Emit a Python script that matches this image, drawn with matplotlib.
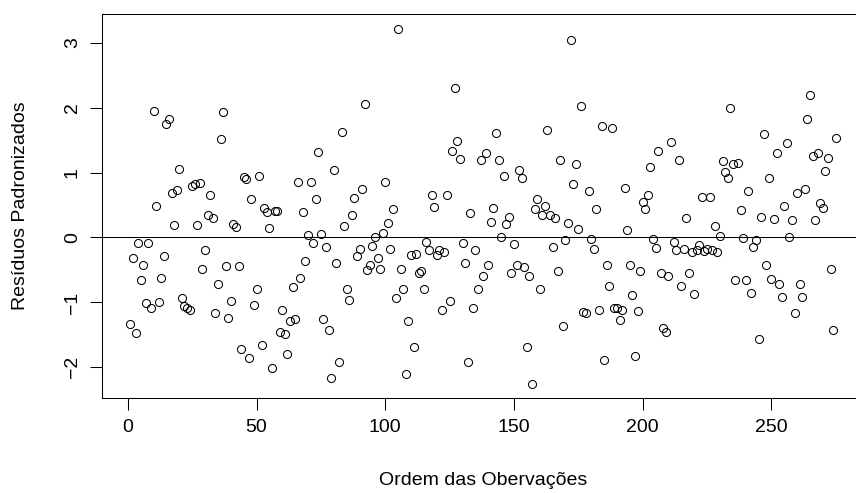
import numpy as np
import matplotlib
matplotlib.use("Agg")
import matplotlib.pyplot as plt

residuos = [
    -1.34, -0.31, -1.47, -0.09, -0.65, -0.42, -1.01, -0.08, -1.08, 1.95,
    0.49, -1.00, -0.62, -0.29, 1.75, 1.82, 0.69, 0.19, 0.73, 1.06,
    -0.93, -1.05, -1.08, -1.12, 0.79, 0.82, 0.19, 0.84, -0.49, -0.20,
    0.35, 0.65, 0.30, -1.17, -0.71, 1.51, 1.93, -0.44, -1.24, -0.98,
    0.21, 0.16, -0.44, -1.72,
    0.93, 0.90, -1.85, 0.59, -1.04, -0.79, 0.95, -1.65, 0.46, 0.40,
    0.15, -2.01, 0.41, 0.41, -1.46, -1.12, -1.48, -1.79, -1.28, -0.77,
    -1.25, 0.86, -0.63, 0.40, -0.37, 0.04, 0.86, -0.08, 0.59, 1.32,
    0.05, -1.25, -0.14, -1.43, -2.16, 1.04, -0.39, -1.92, 1.63, 0.17,
    -0.79, -0.96, 0.34, 0.61, -0.29, -0.18, 0.75,
    2.05, -0.50, -0.42, -0.13, 0.01, -0.31, -0.48, 0.07, 0.86, 0.23,
    -0.18, 0.44, -0.93, 3.22, -0.48, -0.80, -2.10, -1.28, -0.27, -1.68,
    -0.25, -0.54, -0.52, -0.79, -0.07, -0.19, 0.65, 0.47, -0.27, -0.20,
    -1.11, -0.23, 0.65, -0.98, 1.34, 2.30, 1.49, 1.21, -0.08, -0.39,
    -1.92, 0.38, -1.09, -0.20, -0.80,
    1.20, -0.60, 1.30, -0.42, 0.24, 0.46, 1.61, 1.19, 0.00, 0.95,
    0.21, 0.31, -0.54, -0.10, -0.42, 1.04, 0.92, -0.46, -1.69, -0.60,
    -2.25, 0.44, 0.60, -0.79, 0.34, 0.49, 1.66, 0.34, -0.14, 0.30,
    -0.52, 1.19, -1.37, -0.04, 0.22, 3.04, 0.82, 1.13, 0.13, 2.03,
    -1.15, -1.17, 0.71, -0.03, -0.18, 0.44, -1.12,
    1.72, -1.89, -0.42, -0.75, 1.68, -1.09, -1.09, -1.27, -1.11, 0.76,
    0.11, -0.42, -0.89, -1.82, -1.13, -0.52, 0.54, 0.44, 0.66, 1.09,
    -0.03, -0.16, 1.34, -0.54, -1.39, -1.46, -0.60, 1.47, -0.07, -0.19,
    1.19, -0.75, -0.18, 0.30, -0.54, -0.23, -0.87, -0.20, -0.11, 0.63,
    -0.21, -0.18, 0.63, -0.19, 0.17, -0.22, 0.03,
    1.18, 1.01, 0.92, 1.99, 1.13, -0.65, 1.14, 0.43, -0.01, -0.65,
    0.71, -0.85, -0.14, -0.04, -1.56, 0.32, 1.59, -0.43, 0.92, -0.64,
    0.28, 1.30, -0.72, -0.92, 0.49, 1.45, 0.01, 0.27, -1.17, 0.69,
    -0.72, -0.92, 0.74, 1.82, 2.20, 1.26, 0.27, 1.30, 0.53, 0.46,
    1.03, 1.22, -0.48, -1.42, 1.53,
]
x_ticks = [0, 50, 100, 150, 200, 250]
y_ticks = [-2, -1, 0, 1, 2, 3]

res = np.array(residuos)
obs = np.arange(1, len(res) + 1)

plt.rcParams["font.family"] = ["Liberation Sans", "DejaVu Sans"]
plt.rcParams["font.size"] = 14

W, H = 856, 493
fig = plt.figure(figsize=(W / 100, H / 100), dpi=100)
# plot region in pixels (left, top, right, bottom); right edge runs off the image
L, T, R, B = 102.2, 14.3, 864.0, 397.7
ax = fig.add_axes([L / W, 1 - B / H, (R - L) / W, (B - T) / H])

ax.plot(obs, res, "o", mfc="none", mec="black", ms=5.8, mew=0.75)
ax.axhline(0, color="black", lw=0.75)

# R style 4% padding
def rlim(v):
    lo, hi = min(v), max(v)
    p = 0.04 * (hi - lo)
    return lo - p, hi + p

ax.set_xlim(*rlim(obs))
ax.set_ylim(*rlim(res))
ax.set_xticks(x_ticks)
ax.set_yticks(y_ticks)
for s in ax.spines.values():
    s.set_linewidth(0.75)
ax.tick_params(direction="out", length=8.4, width=0.75, colors="black")
ax.tick_params(axis="x", pad=7)
ax.tick_params(axis="y", pad=7)
for lab in ax.get_yticklabels():
    lab.set_rotation(90)
    lab.set_va("center")

fig.text(483 / W, 1 - 485 / H, "Ordem das Obervações", ha="center", va="baseline")
fig.text(21 / W, 1 - 206 / H, "Resíduos Padronizados", rotation=90,
         ha="center", va="center")

fig.savefig("out.png", dpi=100)
